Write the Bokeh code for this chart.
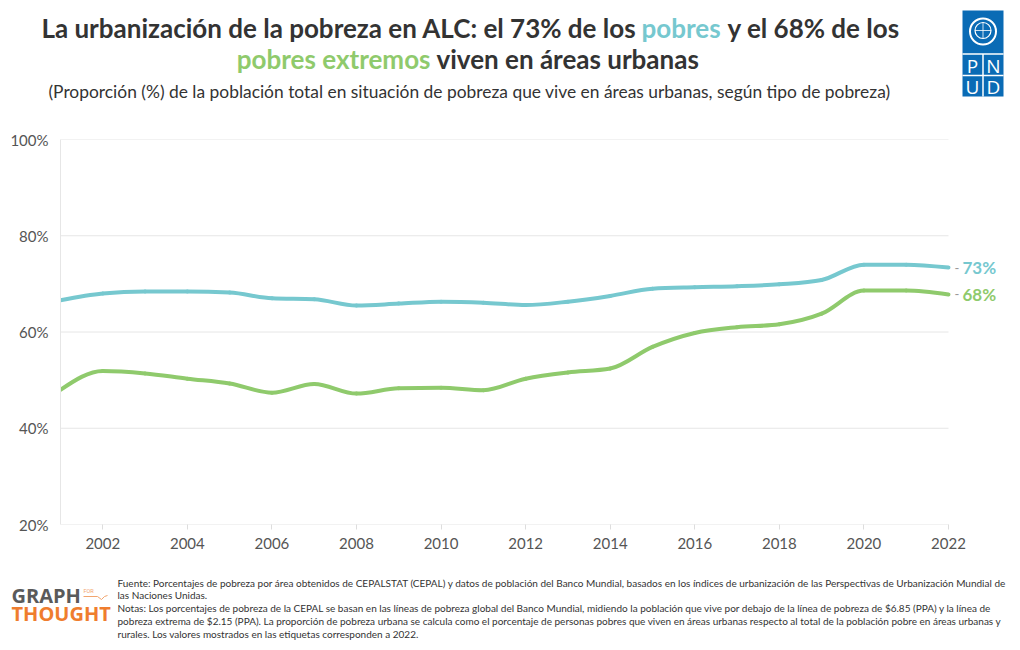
import numpy as np
from bokeh.plotting import figure
from bokeh.models import Range1d, FixedTicker, PrintfTickFormatter, ColumnDataSource
from bokeh.layouts import column
from bokeh.embed import file_html
from bokeh.resources import INLINE
from bokeh.core.properties import value

# ---------------- data ----------------
years = list(range(2001, 2023))
pobres = [66.6, 68.0, 68.4, 68.4, 68.2, 67.0, 66.8, 65.5, 65.9, 66.3, 66.1,
          65.6, 66.3, 67.5, 69.0, 69.3, 69.5, 69.9, 70.8, 74.0, 74.0, 73.4]
extremos = [48.0, 51.9, 51.4, 50.3, 49.3, 47.4, 49.2, 47.2, 48.3, 48.4, 47.9,
            50.3, 51.6, 52.4, 56.9, 59.8, 61.0, 61.6, 63.8, 68.6, 68.6, 67.8]
series_names = ["pobres", "pobres extremos"]
end_labels = ["73%", "68%"]
y_ticks = [20, 40, 60, 80, 100]
x_ticks = list(range(2002, 2023, 2))

BLUE = "#76c8cf"
GREEN = "#8fca6c"
DARK = "#333333"
FONT = "Lato"

W = 1008

def monotone_segments(xs, ys):
    xs = np.asarray(xs, float); ys = np.asarray(ys, float)
    n = len(xs)
    h = np.diff(xs); s = np.diff(ys) / h
    t = np.zeros(n)
    for i in range(1, n - 1):
        s0, s1, h0, h1 = s[i - 1], s[i], h[i - 1], h[i]
        p_ = (s0 * h1 + s1 * h0) / (h0 + h1)
        t[i] = (np.sign(s0) + np.sign(s1)) * min(abs(s0), abs(s1), 0.5 * abs(p_))
    t[0] = (3 * s[0] - t[1]) / 2
    t[-1] = (3 * s[-1] - t[-2]) / 2
    return dict(
        x0=xs[:-1], y0=ys[:-1], x1=xs[1:], y1=ys[1:],
        cx0=xs[:-1] + h / 3, cy0=ys[:-1] + t[:-1] * h / 3,
        cx1=xs[1:] - h / 3, cy1=ys[1:] - t[1:] * h / 3,
    )

def blank_fig(y_top, y_bot):
    f = figure(width=W, height=y_bot - y_top, output_backend="svg", toolbar_location=None,
               x_range=Range1d(0, W), y_range=Range1d(y_bot, y_top),
               x_axis_type=None, y_axis_type=None, min_border=0,
               outline_line_color=None, frame_align=False)
    f.grid.visible = False
    f.min_border_left = f.min_border_right = f.min_border_top = f.min_border_bottom = 0
    return f

def txt(f, x, y, s, color=DARK, size="26px", style="bold", align="left",
        baseline="middle", font=FONT):
    f.text(x=[x], y=[y], text=[s], text_color=color, text_font=value(font),
           text_font_size=size, text_font_style=style, text_align=align,
           text_baseline=baseline)

# ---------------- header ----------------
hdr = blank_fig(0, 128)
txt(hdr, 636, 27, "La urbanización de la pobreza en ALC: el 73% de los", align="right")
txt(hdr, 641, 27, "pobres", color=BLUE)
txt(hdr, 727, 27, "y el 68% de los")
txt(hdr, 430, 58, "pobres extremos", color=GREEN, align="right")
txt(hdr, 436, 58, "viven en áreas urbanas")
txt(hdr, 469, 91, "(Proporción (%) de la población total en situación de pobreza que vive en áreas urbanas, según tipo de pobreza)",
    size="17.4px", style="normal", align="center")

# PNUD logo
UNDP = "#0a6bb5"
hdr.quad(left=[962], right=[1003], top=[10], bottom=[96], fill_color=UNDP, line_color=None)
hdr.segment(x0=[962, 962, 982.5], y0=[53.5, 75, 53.5], x1=[1003, 1003, 982.5], y1=[53.5, 75, 96],
            line_color="white", line_width=1.5)
hdr.circle(x=[982.5], y=[31], radius=13, fill_color=None, line_color="white", line_width=2)
hdr.circle(x=[982.5], y=[30], radius=8, fill_color=None, line_color="white", line_width=1.2)
hdr.segment(x0=[974.5, 982.5], y0=[30, 22], x1=[990.5, 982.5], y1=[30, 38], line_color="white", line_width=0.8)
for lx, ly, ch in [(972, 65, "P"), (993, 65, "N"), (972, 86, "U"), (993, 86, "D")]:
    txt(hdr, lx, ly, ch, color="white", size="19px", style="normal", align="center",
        baseline="middle", font="Open Sans")

# ---------------- main chart ----------------
FL, FR = 60, 1004            # frame left / right (px)
px_per_year = (948 - 60) / (years[-1] - years[0])
x_end = years[0] + (FR - FL) / px_per_year
p = figure(width=W, height=440, output_backend="svg", toolbar_location=None,
           x_range=Range1d(years[0], x_end), y_range=Range1d(20, 100),
           min_border_left=FL, min_border_right=W - FR, min_border_top=11, min_border_bottom=44,
           outline_line_color=None, frame_align=False)

# horizontal grid lines limited to the data span
p.segment(x0=[years[0]] * len(y_ticks), x1=[years[-1]] * len(y_ticks), y0=y_ticks, y1=y_ticks,
          line_color="#e6e6e6", line_width=1)

for vals, col in [(pobres, BLUE), (extremos, GREEN)]:
    src = ColumnDataSource(monotone_segments(years, vals))
    p.bezier(x0="x0", y0="y0", x1="x1", y1="y1", cx0="cx0", cy0="cy0", cx1="cx1", cy1="cy1",
             source=src, line_color=col, line_width=4, line_cap="round")

p.xaxis.ticker = FixedTicker(ticks=x_ticks)
p.yaxis.ticker = FixedTicker(ticks=y_ticks)
p.yaxis.formatter = PrintfTickFormatter(format="%d%%")
p.xgrid.visible = False
p.ygrid.visible = False
for ax in (p.xaxis[0], p.yaxis[0]):
    ax.major_label_text_font = FONT
    ax.major_label_text_font_size = "15px"
    ax.major_label_text_color = "#555555"
    ax.minor_tick_line_color = None
p.xaxis.axis_line_color = None
p.xaxis.major_tick_line_color = "#dddddd"
p.xaxis.major_tick_in = 0
p.xaxis.major_tick_out = 5
p.xaxis.major_label_standoff = 8
p.yaxis.axis_line_color = "#e6e6e6"
p.yaxis.major_tick_line_color = None
p.yaxis.major_label_standoff = 6

last_x = [years[-1], years[-1]]
last_y = [pobres[-1], extremos[-1]]
p.text(x=last_x, y=last_y, text=["-", "-"], x_offset=6, text_color="#999999",
       text_font=value(FONT), text_font_size="13px", text_baseline="middle")
p.text(x=last_x, y=last_y, text=end_labels, x_offset=14, text_color=[BLUE, GREEN],
       text_font=value(FONT), text_font_size="17px", text_font_style="bold",
       text_baseline="middle")

# ---------------- footer ----------------
ftr = blank_fig(568, 642)
notes = [
    "Fuente: Porcentajes de pobreza por área obtenidos de CEPALSTAT (CEPAL) y datos de población del Banco Mundial, basados en los índices de urbanización de las Perspectivas de Urbanización Mundial de",
    "las Naciones Unidas.",
    "Notas: Los porcentajes de pobreza de la CEPAL se basan en las líneas de pobreza global del Banco Mundial, midiendo la población que vive por debajo de la línea de pobreza de $6.85 (PPA) y la línea de",
    "pobreza extrema de $2.15 (PPA). La proporción de pobreza urbana se calcula como el porcentaje de personas pobres que viven en áreas urbanas respecto al total de la población pobre en áreas urbanas y",
    "rurales. Los valores mostrados en las etiquetas corresponden a 2022.",
]
for i, line in enumerate(notes):
    txt(ftr, 117, 582 + 12.8 * i, line, color="#333333", size="10px", style="normal")
ORANGE = "#ef7d2e"
txt(ftr, 11, 595, "GRAPH", color="#5a5a5a", size="20px", style="bold", font="Open Sans")
txt(ftr, 83, 590, "FOR", color="#f2a56e", size="5.5px", style="normal", font="Roboto")
ftr.line(x=[83, 97, 101, 104, 107], y=[596, 596, 599, 596, 595], line_color="#f2a56e", line_width=1)
txt(ftr, 11, 613, "THOUGHT", color=ORANGE, size="20px", style="bold", font="Open Sans")

layout = column(hdr, p, ftr, spacing=0)
open("out.html", "w").write(file_html(layout, INLINE))
